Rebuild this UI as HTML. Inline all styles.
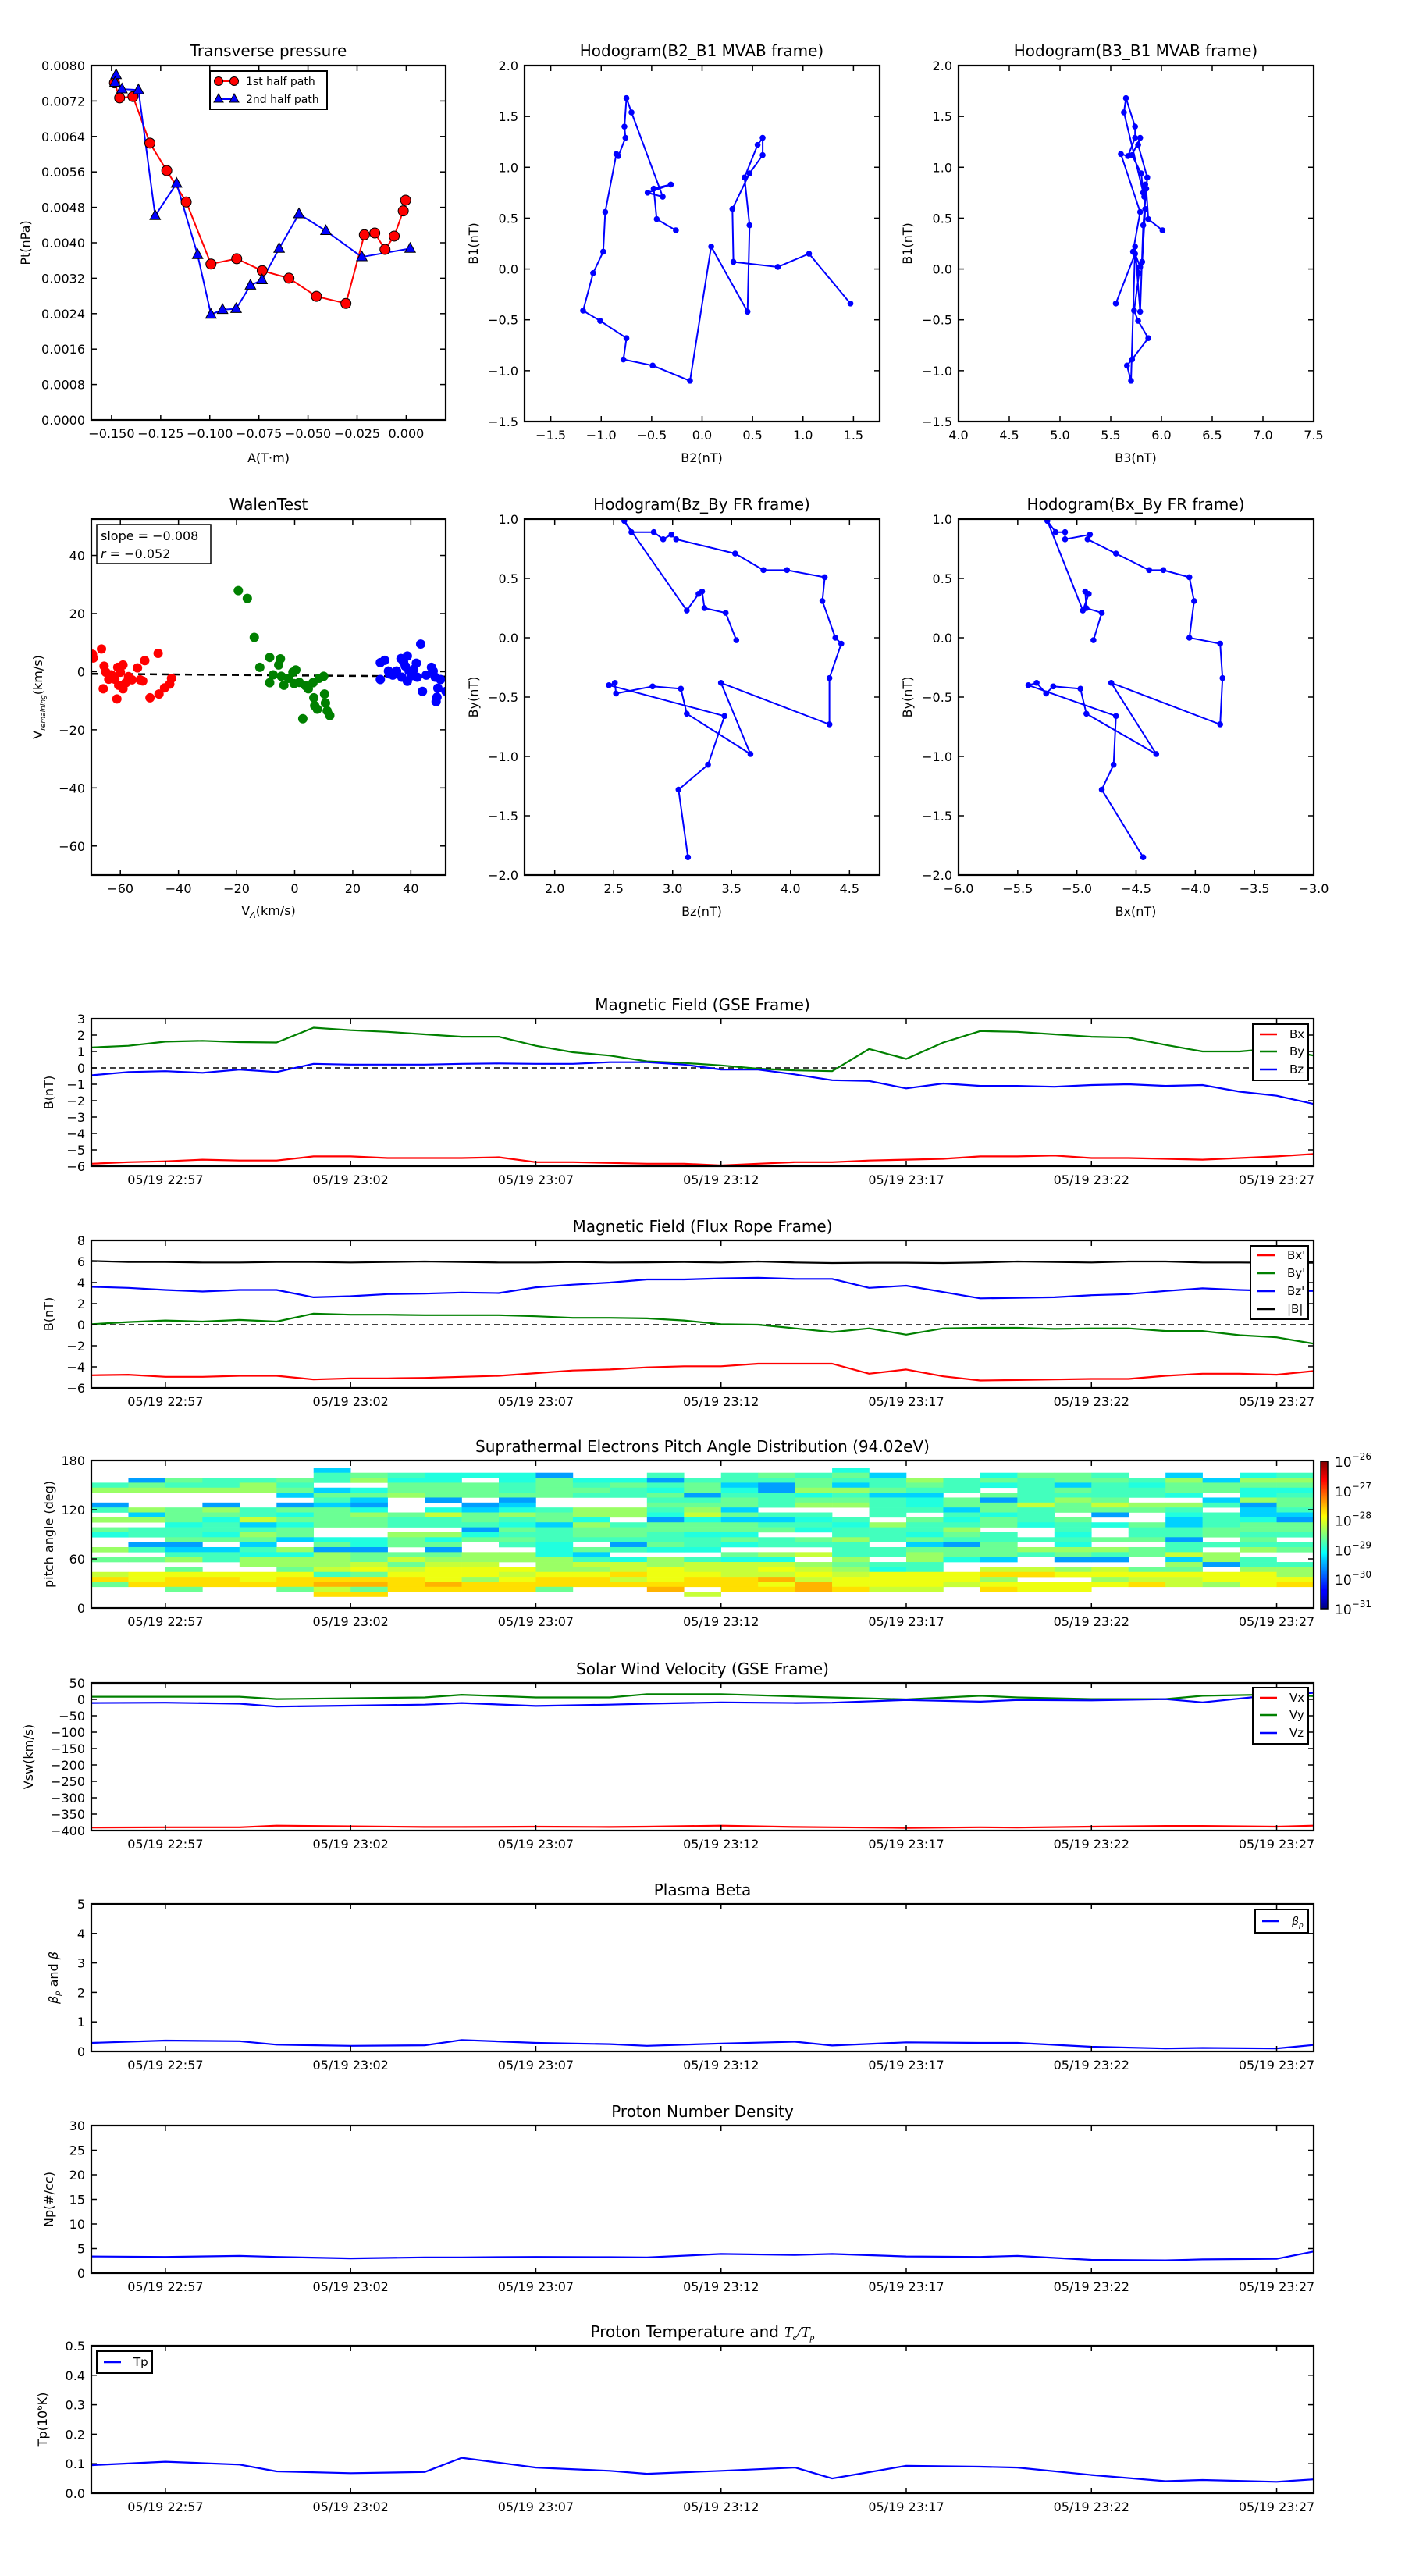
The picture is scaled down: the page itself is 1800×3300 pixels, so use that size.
<!DOCTYPE html>
<html><head><meta charset="utf-8"><title>Flux rope analysis</title>
<style>
html,body{margin:0;padding:0;background:#fff;}
svg{display:block;font-family:"DejaVu Sans","Liberation Sans",sans-serif;}
</style></head>
<body>
<svg id="fig" xmlns="http://www.w3.org/2000/svg" width="1800" height="3300" viewBox="0 0 1800 3300">
<rect x="0" y="0" width="1800" height="3300" fill="#fff"/>
<defs>
<linearGradient id="jetgrad" x1="0" y1="1" x2="0" y2="0">
<stop offset="0" stop-color="#00007f"/><stop offset="0.11" stop-color="#0000ff"/><stop offset="0.125" stop-color="#0000ff"/>
<stop offset="0.34" stop-color="#00d0ff"/><stop offset="0.375" stop-color="#00ffff"/><stop offset="0.5" stop-color="#7fff7f"/>
<stop offset="0.625" stop-color="#ffff00"/><stop offset="0.66" stop-color="#ffe000"/><stop offset="0.875" stop-color="#ff0000"/><stop offset="1" stop-color="#7f0000"/>
</linearGradient>
</defs>
</svg>
<script>
// ---------------- DATA ----------------
const tpA1 = [-0.1485,-0.1459,-0.1391,-0.1305,-0.1219,-0.1120,-0.0994,-0.0863,-0.0733,-0.0597,-0.0457,-0.0307,-0.0213,-0.0160,-0.0108,-0.0061,-0.0015,-0.0003];
const tpP1 = [0.00761,0.00727,0.00730,0.00625,0.00563,0.00492,0.00352,0.00364,0.00337,0.00320,0.00279,0.00263,0.00418,0.00422,0.00385,0.00415,0.00472,0.00496];
const tpA2 = [-0.1477,-0.1482,-0.1447,-0.1363,-0.1278,-0.1169,-0.1062,-0.0994,-0.0935,-0.0866,-0.0793,-0.0734,-0.0647,-0.0546,-0.0409,-0.0226,0.0020];
const tpP2 = [0.00779,0.00762,0.00747,0.00745,0.00461,0.00534,0.00373,0.00238,0.00249,0.00251,0.00304,0.00316,0.00387,0.00465,0.00427,0.00368,0.00387];
const mvB2 = [-0.26,-0.45,-0.48,-0.31,-0.54,-0.39,-0.70,-0.75,-0.77,-0.76,-0.83,-0.85,-0.96,-0.98,-1.08,-1.18,-1.01,-0.75,-0.78,-0.49,-0.12,0.09,0.45,0.47,0.42,0.55,0.60,0.60,0.47,0.30,0.31,0.75,1.06,1.47];
const mvB1 = [0.38,0.49,0.79,0.83,0.75,0.71,1.54,1.68,1.40,1.29,1.11,1.13,0.56,0.17,-0.04,-0.41,-0.51,-0.68,-0.89,-0.95,-1.10,0.22,-0.42,0.43,0.90,1.22,1.29,1.12,0.94,0.59,0.07,0.02,0.15,-0.34];
const mvB3 = [6.01,5.87,5.85,5.84,5.82,5.83,5.63,5.65,5.74,5.74,5.67,5.60,5.79,5.72,5.78,5.73,5.77,5.87,5.71,5.66,5.70,5.74,5.79,5.82,5.86,5.77,5.79,5.71,5.80,5.84,5.81,5.79,5.74,5.55];
const frBy = [-0.02,0.21,0.25,0.39,0.37,0.23,0.985,0.89,0.89,0.83,0.87,0.83,0.71,0.57,0.57,0.51,0.31,0.00,-0.05,-0.34,-0.73,-0.38,-0.98,-0.64,-0.43,-0.41,-0.47,-0.38,-0.40,-0.66,-1.07,-1.28,-1.85];
const frBz = [3.54,3.45,3.27,3.25,3.22,3.12,2.59,2.65,2.84,2.92,2.99,3.03,3.53,3.77,3.97,4.29,4.27,4.38,4.43,4.33,4.33,3.41,3.66,3.12,3.07,2.83,2.52,2.51,2.46,3.44,3.30,3.05,3.13];
const frBx = [-4.86,-4.79,-4.92,-4.93,-4.90,-4.95,-5.25,-5.18,-5.10,-5.10,-4.89,-4.91,-4.67,-4.39,-4.27,-4.05,-4.01,-4.05,-3.79,-3.77,-3.79,-4.71,-4.33,-4.92,-4.97,-5.20,-5.26,-5.34,-5.41,-4.67,-4.69,-4.79,-4.44];
const wRedX = [-69.6,-69.3,-66.5,-65.6,-65.0,-65.9,-63.1,-61.9,-61.2,-60.9,-60.0,-59.1,-59.1,-58.1,-57.2,-56.0,-54.1,-53.2,-52.3,-51.6,-49.8,-47.0,-46.7,-44.8,-43.0,-42.4,-64.0,-60.6];
const wRedY = [6.0,4.7,7.8,1.9,-0.2,-5.9,-1.1,-2.6,-9.4,1.5,-0.2,2.3,-5.9,-3.8,-1.7,-2.8,1.3,-2.8,-3.2,3.8,-9.0,6.3,-7.7,-5.6,-4.3,-2.3,-2.6,-4.7];
const wGrnX = [-19.4,-16.3,-13.9,-12.0,-8.6,-8.6,-7.4,-5.5,-4.9,-4.6,-3.7,-2.1,-0.6,-0.2,0.4,1.6,2.8,3.8,4.7,6.3,6.6,6.9,7.8,10.0,10.3,10.6,11.2,12.1,8.4];
const wGrnY = [27.9,25.2,11.8,1.5,4.9,-3.8,-1.1,2.3,4.4,-1.6,-4.7,-2.3,-0.2,-4.1,0.6,-3.7,-16.2,-4.9,-5.9,-3.8,-9.0,-11.7,-12.9,-1.6,-7.7,-10.8,-13.5,-15.1,-2.3];
const wBluX = [29.5,31.0,29.5,32.6,33.8,35.1,36.6,36.9,37.5,38.1,38.8,38.8,39.4,40.3,41.0,41.9,42.2,43.4,44.0,45.3,47.1,47.7,48.4,48.7,49.0,49.3,50.2,52.1,32.3];
const wBluY = [3.1,3.9,-2.7,-0.8,-1.2,0.2,4.5,-1.9,3.3,1.9,5.4,-3.3,0.2,-1.4,0.8,2.9,-1.9,9.5,-6.8,-1.2,1.5,0.2,-1.9,-10.3,-8.8,-5.7,-2.7,-6.8,0.2];
const wFit = [-0.008, -1.3];
const tB = [0,1,2,3,4,5,6,7,8,9,10,11,12,13,14,15,16,17,18,19,20,21,22,23,24,25,26,27,28,29,30,31,32,33];
const gseBx = [-5.85,-5.75,-5.7,-5.6,-5.65,-5.65,-5.4,-5.4,-5.5,-5.5,-5.5,-5.45,-5.75,-5.75,-5.8,-5.85,-5.85,-5.95,-5.85,-5.75,-5.75,-5.65,-5.6,-5.55,-5.4,-5.4,-5.35,-5.5,-5.5,-5.55,-5.6,-5.5,-5.4,-5.25];
const gseBy = [1.25,1.35,1.6,1.65,1.57,1.55,2.45,2.3,2.2,2.05,1.9,1.9,1.35,0.95,0.75,0.4,0.3,0.15,-0.05,-0.15,-0.2,1.15,0.55,1.55,2.25,2.2,2.05,1.9,1.85,1.4,1.0,1.0,1.2,0.75];
const gseBz = [-0.45,-0.25,-0.2,-0.3,-0.1,-0.25,0.25,0.2,0.2,0.2,0.25,0.27,0.25,0.25,0.35,0.35,0.2,-0.1,-0.1,-0.4,-0.75,-0.8,-1.25,-0.95,-1.1,-1.1,-1.15,-1.05,-1.0,-1.1,-1.05,-1.45,-1.7,-2.2];
const frTx = [-4.8,-4.75,-4.95,-4.95,-4.85,-4.85,-5.2,-5.1,-5.1,-5.05,-4.95,-4.85,-4.6,-4.35,-4.25,-4.05,-3.95,-3.95,-3.7,-3.7,-3.7,-4.65,-4.25,-4.9,-5.3,-5.25,-5.2,-5.15,-5.15,-4.85,-4.65,-4.65,-4.75,-4.4];
const frTy = [0.05,0.25,0.4,0.3,0.45,0.3,1.05,0.95,0.95,0.9,0.9,0.9,0.8,0.65,0.65,0.6,0.4,0.05,0.0,-0.35,-0.7,-0.35,-0.95,-0.35,-0.3,-0.3,-0.4,-0.35,-0.35,-0.6,-0.6,-1.0,-1.2,-1.8];
const frTz = [3.6,3.5,3.3,3.15,3.3,3.3,2.6,2.7,2.9,2.95,3.05,3.0,3.55,3.8,4.0,4.3,4.3,4.4,4.45,4.35,4.35,3.5,3.7,3.1,2.5,2.55,2.6,2.8,2.9,3.2,3.45,3.3,3.2,3.2];
const frTb = [6.05,5.95,5.95,5.9,5.9,5.95,5.95,5.9,5.95,6.0,5.95,5.9,5.9,5.95,5.9,5.92,5.95,5.9,6.0,5.9,5.85,5.88,5.88,5.85,5.9,6.0,5.95,5.9,6.0,6.0,5.9,5.9,5.88,5.88];
const padCodes = {b:-29.6,c:-29.35,q:-28.97,m:-28.8,g:-28.6,l:-28.37,y:-28.15,Y:-27.96,o:-27.72,O:-27.5};
const padTopAngle = 171.1, padBin = 6.05;
const padRows = [
"......c.........."+"...q............",
"......mgmqqqb..m."+"mgmgc..qggm.c.qm",
".bgmmgmlqq.qgqqbm"+"mmgmmlmgmggmlcll",
"mgmmlm..gggmgmgmg"+"cbgcmgmqmcmqgggg",
"lllllgcqgggmggmqg"+"qbllgmm.mgmmggqq",
".....cgglggggmmgb"+"mmqmcc.gmmmmq.qm",
"......mc.b.b...mm"+"gmggmqgbmlg..clg",
"b..b.bcb..bc...gg"+"gmllmqggygyllmbg",
"mlglmggq.qcqmllml"+"c...mmcgmgggm.cm",
".cggmqglgyglgllqy"+"gmm.m.mqm.b.qmcc",
"llgqygggmmgmgq.bq"+"ccqm.gqgmg..cmqb",
"..qmcqggmmmqclmgg"+"gmmqlmmgqmqgcmgg",
"gmmmmg....bgmgggg"+"ggqmmml..m.mmggg",
"qmmqlg..llqmmggmq"+"q..mmqgm.q.mmgmm",
"..gggcqqgqggmmmmm"+"gmglmgmmmmggb.g.",
".bb.c.gqgg.mq.bgm"+"qmmm.cbg.q..mmmm",
"lmccmlbb.b..qgmqq"+"...mmggglllgm.lg",
"..mmqqlgggllqc..."+"glymmlggmgmgyl..",
"gglmlllgyllllmqlm"+"qq.l.lqc.bb.clm.",
"....lllygyy.lyyly"+"yylgmm......lbmm",
"..g..gyYyYYYllyYy"+"yYylqm.yylygg.ll",
"yYYYYYmgYYYyYYoYY"+"yyYyYYYooYYYYYYl",
"oYooYooooYlYooyYo"+"oOyYYYYl..lyyYYY",
"goooooOOoOooooooo"+"oYOYYYyYYYYoylYo",
"..g..gygoooog..O."+"ooOoyy.oYY......",
"......oo........y"+"................"
];
const tV = [0,2,4,5,9,10,12,14,15,17,19,20,22,24,25,27,29,30,32,33];
const vswX = [-391,-390,-390,-385,-389,-389,-388,-389,-388,-385,-389,-390,-392,-390,-391,-388,-386,-386,-388,-385];
const vswY = [8,8,8,1,6,14,6,6,16,16,9,6,0,11,6,1,1,11,15,10];
const vswZ = [-11,-10,-13,-22,-16,-11,-20,-16,-13,-9,-11,-10,-2,-7,-2,-3,1,-9,14,20];
const tP = [0,2,4,5,7,9,10,12,14,15,17,19,20,22,24,25,27,29,30,32,33];
const betaP = [0.29,0.37,0.35,0.23,0.19,0.21,0.39,0.29,0.25,0.19,0.27,0.33,0.2,0.31,0.29,0.29,0.16,0.1,0.12,0.1,0.22];
const densNp = [3.4,3.3,3.5,3.3,3.0,3.2,3.2,3.3,3.25,3.2,3.9,3.7,3.9,3.4,3.3,3.5,2.7,2.6,2.8,2.9,4.4];
const tempTp = [0.095,0.107,0.097,0.074,0.068,0.072,0.12,0.087,0.076,0.066,0.076,0.087,0.05,0.093,0.09,0.087,0.062,0.041,0.045,0.039,0.047];
const timeTicks = [2,7,12,17,22,27,32];
const timeLabels = ["05/19 22:57","05/19 23:02","05/19 23:07","05/19 23:12","05/19 23:17","05/19 23:22","05/19 23:27"];

// ---------------- HELPERS ----------------
const NS='http://www.w3.org/2000/svg';
const svg=document.getElementById('fig');
let clipN=0;
function mk(tag, attrs, name, parent){
  const el=document.createElementNS(NS,tag);
  for(const k in attrs) el.setAttribute(k,attrs[k]);
  
  
  (parent||svg).appendChild(el);
  return el;
}
function txt(x,y,html,o,name,parent){
  o=o||{};
  const el=mk('text',{x:x,y:y,'font-size':o.fs||16,'text-anchor':o.anchor||'middle',fill:'#000'},name,parent);
  if(o.rot) el.setAttribute('transform','rotate('+o.rot+' '+x+' '+y+')');
  if(o.style) el.setAttribute('font-style',o.style);
  el.innerHTML=html;
  return el;
}
function fmt(v,d){ let s=Math.abs(v)<1e-12?(0).toFixed(d):v.toFixed(d); return s.replace('-','\u2212'); }
function axes(x0,y0,w,h,xlim,ylim,name){
  const g=mk('g',{},name);
  const sx=v=>x0+(v-xlim[0])/(xlim[1]-xlim[0])*w;
  const sy=v=>y0+h-(v-ylim[0])/(ylim[1]-ylim[0])*h;
  const id='clip'+(clipN++);
  const cp=mk('clipPath',{id:id},'clip-region',g);
  mk('rect',{x:x0,y:y0,width:w,height:h},'clip-rect',cp);
  const plot=mk('g',{'clip-path':'url(#'+id+')'},'plot-area',g);
  return {g,plot,sx,sy,x0,y0,w,h,xlim,ylim};
}
function frame(ax,xt,xl,yt,yl,fs){
  fs=fs||16;
  const g=ax.g;
  xt.forEach((v,i)=>{const x=ax.sx(v);
    mk('line',{x1:x,x2:x,y1:ax.y0+ax.h,y2:ax.y0+ax.h-7,stroke:'#000','stroke-width':1.5},'x-tick',g);
    mk('line',{x1:x,x2:x,y1:ax.y0,y2:ax.y0+7,stroke:'#000','stroke-width':1.5},'x-tick-top',g);
    txt(x,ax.y0+ax.h+23,xl[i],{fs:fs},'x-tick-label',g);});
  yt.forEach((v,i)=>{const y=ax.sy(v);
    mk('line',{x1:ax.x0,x2:ax.x0+7,y1:y,y2:y,stroke:'#000','stroke-width':1.5},'y-tick',g);
    mk('line',{x1:ax.x0+ax.w,x2:ax.x0+ax.w-7,y1:y,y2:y,stroke:'#000','stroke-width':1.5},'y-tick-right',g);
    txt(ax.x0-8,y+6,yl[i],{fs:fs,anchor:'end'},'y-tick-label',g);});
  mk('rect',{x:ax.x0,y:ax.y0,width:ax.w,height:ax.h,fill:'none',stroke:'#000','stroke-width':2.2},'axes-frame',g);
}
function range(a,b,s){const r=[];for(let v=a;v<=b+1e-9;v+=s)r.push(+v.toFixed(6));return r;}
function line(ax,xs,ys,color,name,w,dash){
  const d=xs.map((x,i)=>(i?'L':'M')+ax.sx(x).toFixed(1)+','+ax.sy(ys[i]).toFixed(1)).join('');
  const p=mk('path',{d:d,fill:'none',stroke:color,'stroke-width':w||2,'stroke-linejoin':'round'},name,ax.plot);
  if(dash) p.setAttribute('stroke-dasharray',dash);
  return p;
}
function dots(ax,xs,ys,color,r,name,stroke){
  xs.forEach((x,i)=>{mk('circle',{cx:ax.sx(x),cy:ax.sy(ys[i]),r:r,fill:color,stroke:stroke||'none','stroke-width':1},name,ax.plot);});
}
function tris(ax,xs,ys,color,s,name){
  xs.forEach((x,i)=>{const cx=ax.sx(x),cy=ax.sy(ys[i]);
    mk('path',{d:'M'+cx+','+(cy-s)+'L'+(cx+s*0.9)+','+(cy+s*0.65)+'L'+(cx-s*0.9)+','+(cy+s*0.65)+'Z',fill:color,stroke:'#000','stroke-width':1},name,ax.plot);});
}
function legendBox(x,y,w,h,entries,name){
  const g=mk('g',{},name);
  mk('rect',{x:x,y:y,width:w,height:h,fill:'#fff',stroke:'#000','stroke-width':2},'legend-frame',g);
  entries.forEach((e,i)=>{
    const yy=y+e.dy;
    mk('line',{x1:x+9,x2:x+31,y1:yy,y2:yy,stroke:e.c,'stroke-width':2.5},'legend-line',g);
    txt(x+47,yy+5,e.t,{fs:e.fs||15,anchor:'start'},'legend-label',g);
  });
  return g;
}
function jet(t){t=Math.max(0,Math.min(1,t));
  const c=v=>Math.round(255*Math.max(0,Math.min(1,v)));
  return 'rgb('+c(1.5-Math.abs(4*t-3))+','+c(1.5-Math.abs(4*t-2))+','+c(1.5-Math.abs(4*t-1))+')';}

// ---------------- TRANSVERSE PRESSURE ----------------
(function(){
  const ax=axes(117,84,454,454,[-0.1603,0.0201],[0,0.008],'transverse-pressure-axes');
  line(ax,tpA1,tpP1,'#ff0000','first-half-line',2);
  line(ax,tpA2,tpP2,'#0000ff','second-half-line',2);
  dots(ax,tpA1,tpP1,'#ff0000',6.5,'first-half-marker','#000');
  tris(ax,tpA2,tpP2,'#0000ff',7.5,'second-half-marker');
  const xt=range(-0.15,0,0.025);
  frame(ax,xt,xt.map(v=>fmt(v,3)),range(0,0.008,0.0008),range(0,0.008,0.0008).map(v=>fmt(v,4)));
  txt(344,72,'Transverse pressure',{fs:20},'transverse-pressure-title');
  txt(344,592,'A(T·m)',{fs:16},'x-axis-title');
  txt(38,311,'Pt(nPa)',{fs:16,rot:-90},'y-axis-title');
  const g=mk('g',{},'pressure-legend');
  mk('rect',{x:269,y:91,width:150,height:49,fill:'#fff',stroke:'#000','stroke-width':2},'legend-frame',g);
  mk('line',{x1:280,x2:300,y1:104,y2:104,stroke:'#ff0000','stroke-width':2},'legend-line',g);
  mk('circle',{cx:280,cy:104,r:5.5,fill:'#ff0000',stroke:'#000'},'legend-marker',g);
  mk('circle',{cx:300,cy:104,r:5.5,fill:'#ff0000',stroke:'#000'},'legend-marker',g);
  txt(315,109,'1st half path',{fs:14,anchor:'start'},'legend-label',g);
  mk('line',{x1:280,x2:300,y1:127,y2:127,stroke:'#0000ff','stroke-width':2},'legend-line',g);
  mk('path',{d:'M280,120L286,131L274,131Z',fill:'#0000ff',stroke:'#000'},'legend-marker',g);
  mk('path',{d:'M300,120L306,131L294,131Z',fill:'#0000ff',stroke:'#000'},'legend-marker',g);
  txt(315,132,'2nd half path',{fs:14,anchor:'start'},'legend-label',g);
})();

// ---------------- HODOGRAMS ----------------
function hodo(x0,y0,xlim,ylim,xs,ys,xt,yt,title,xlab,ylab,name){
  const ax=axes(x0,y0,455,456,xlim,ylim,name);
  line(ax,xs,ys,'#0000ff','hodogram-path',2);
  dots(ax,xs,ys,'#0000ff',3.8,'hodogram-point');
  frame(ax,xt,xt.map(v=>fmt(v,1)),yt,yt.map(v=>fmt(v,1)));
  txt(x0+227,y0-12,title,{fs:20},'hodogram-title');
  txt(x0+227,y0+456+52,xlab,{fs:16},'x-axis-title');
  txt(x0-60,y0+228,ylab,{fs:16,rot:-90},'y-axis-title');
}
hodo(672,84,[-1.76,1.76],[-1.5,2.0],mvB2,mvB1,range(-1.5,1.5,0.5),range(-1.5,2,0.5),'Hodogram(B2_B1 MVAB frame)','B2(nT)','B1(nT)','hodogram-b2-b1');
hodo(1228,84,[4,7.5],[-1.5,2.0],mvB3,mvB1,range(4,7.5,0.5),range(-1.5,2,0.5),'Hodogram(B3_B1 MVAB frame)','B3(nT)','B1(nT)','hodogram-b3-b1');
hodo(672,665,[1.744,4.756],[-2,1],frBz,frBy,range(2,4.5,0.5),range(-2,1,0.5),'Hodogram(Bz_By FR frame)','Bz(nT)','By(nT)','hodogram-bz-by');
hodo(1228,665,[-6,-3],[-2,1],frBx,frBy,range(-6,-3,0.5),range(-2,1,0.5),'Hodogram(Bx_By FR frame)','Bx(nT)','By(nT)','hodogram-bx-by');

// ---------------- WALEN TEST ----------------
(function(){
  const ax=axes(117,665,454,456,[-70,52],[-70,52.5],'walen-test-axes');
  line(ax,[-70,52],[wFit[1]+wFit[0]*-70,wFit[1]+wFit[0]*52],'#000','fit-line',2.5,'9,6');
  dots(ax,wRedX,wRedY,'#ff0000',6,'walen-point-red');
  dots(ax,wGrnX,wGrnY,'#008000',6,'walen-point-green');
  dots(ax,wBluX,wBluY,'#0000ff',6,'walen-point-blue');
  const xt=range(-60,40,20), yt=range(-60,40,20);
  frame(ax,xt,xt.map(v=>fmt(v,0)),yt,yt.map(v=>fmt(v,0)));
  txt(344,653,'WalenTest',{fs:20},'walen-title');
  txt(344,1172,'V<tspan font-size="11" dy="4" font-style="italic">A</tspan><tspan dy="-4">(km/s)</tspan>',{fs:16},'x-axis-title');
  txt(54,893,'V<tspan font-size="9" dy="4" font-style="italic">remaining</tspan><tspan dy="-4">(km/s)</tspan>',{fs:16,rot:-90},'y-axis-title');
  const g=mk('g',{},'fit-textbox');
  mk('rect',{x:124,y:672,width:146,height:50,fill:'#fff',stroke:'#000','stroke-width':1.5},'textbox-frame',g);
  txt(129,692,'slope = '+fmt(wFit[0],3),{fs:16,anchor:'start'},'slope-text',g);
  txt(129,715,'<tspan font-style="italic">r</tspan> = \u22120.052',{fs:16,anchor:'start'},'r-text',g);
})();

// ---------------- TIME SERIES PANELS ----------------
const PX=117, PW=1566, PH=189;
const panelTop=[1305,1589,1871,2156,2439,2723,3005];
function tpanel(i,ylim,yt,ylabels,title,ylabel,name,ylx){
  const ax=axes(PX,panelTop[i],PW,PH,[0,33],ylim,name);
  ax.finish=()=>{frame(ax,timeTicks,timeLabels,yt,ylabels);
    txt(PX+PW/2,panelTop[i]-11,title,{fs:20},'panel-title');
    txt(ylx||68,panelTop[i]+PH/2,ylabel,{fs:16,rot:-90},'y-axis-title');};
  return ax;
}
(function(){
  const yt=range(-6,3,1);
  const ax=tpanel(0,[-6,3],yt,yt.map(v=>fmt(v,0)),'Magnetic Field (GSE Frame)','B(nT)','magnetic-field-gse-panel');
  line(ax,[0,33],[0,0],'#000','zero-line',1.5,'7,5');
  line(ax,tB,gseBx,'#ff0000','bx-line',2.2);
  line(ax,tB,gseBy,'#008000','by-line',2.2);
  line(ax,tB,gseBz,'#0000ff','bz-line',2.2);
  ax.finish();
  legendBox(1605,1312,71,72,[{c:'#ff0000',t:'Bx',dy:13},{c:'#008000',t:'By',dy:35},{c:'#0000ff',t:'Bz',dy:58}],'gse-legend');
})();
(function(){
  const yt=range(-6,8,2);
  const ax=tpanel(1,[-6,8],yt,yt.map(v=>fmt(v,0)),'Magnetic Field (Flux Rope Frame)','B(nT)','magnetic-field-fr-panel');
  line(ax,[0,33],[0,0],'#000','zero-line',1.5,'7,5');
  line(ax,tB,frTx,'#ff0000','bx-prime-line',2.2);
  line(ax,tB,frTy,'#008000','by-prime-line',2.2);
  line(ax,tB,frTz,'#0000ff','bz-prime-line',2.2);
  line(ax,tB,frTb,'#000000','b-total-line',2.2);
  ax.finish();
  legendBox(1602,1596,74,94,[{c:'#ff0000',t:"Bx'",dy:12},{c:'#008000',t:"By'",dy:35},{c:'#0000ff',t:"Bz'",dy:58},{c:'#000',t:'|B|',dy:81}],'fr-legend');
})();
(function(){
  const yt=[0,60,120,180];
  const ax=tpanel(2,[0,180],yt,yt.map(v=>String(v)),'Suprathermal Electrons Pitch Angle Distribution (94.02eV)','pitch angle (deg)','pitch-angle-panel');
  padRows.forEach((row,k)=>{
    const aTop=padTopAngle-padBin*k, aBot=aTop-padBin;
    for(let c=0;c<33;c++){
      const ch=row[c];
      if(!ch||!(ch in padCodes)) continue;
      const t=(padCodes[ch]+31)/5;
      const x1=ax.sx(c), x2=ax.sx(c+1), y1=ax.sy(aTop), y2=ax.sy(aBot);
      mk('rect',{x:x1,y:y1,width:x2-x1+0.3,height:y2-y1+0.3,fill:jet(t)},'pad-cell',ax.plot);
    }
  });
  ax.finish();
  const g=mk('g',{},'colorbar');
  mk('rect',{x:1692,y:1872,width:9,height:189,fill:'url(#jetgrad)',stroke:'#000','stroke-width':1.5},'colorbar-gradient',g);
  for(let k=0;k<=5;k++){
    const y=2061-k*189/5;
    txt(1710,y+7,'10<tspan font-size="12" dy="-9">\u2212'+(31-k)+'</tspan>',{fs:17,anchor:'start'},'colorbar-label',g);
  }
})();
(function(){
  const yt=range(-400,50,50);
  const ax=tpanel(3,[-400,50],yt,yt.map(v=>fmt(v,0)),'Solar Wind Velocity (GSE Frame)','Vsw(km/s)','solar-wind-velocity-panel',42);
  line(ax,tV,vswX,'#ff0000','vx-line',2.2);
  line(ax,tV,vswY,'#008000','vy-line',2.2);
  line(ax,tV,vswZ,'#0000ff','vz-line',2.2);
  ax.finish();
  legendBox(1605,2162,71,72,[{c:'#ff0000',t:'Vx',dy:13},{c:'#008000',t:'Vy',dy:35},{c:'#0000ff',t:'Vz',dy:58}],'vsw-legend');
})();
(function(){
  const yt=range(0,5,1);
  const ax=tpanel(4,[0,5],yt,yt.map(v=>fmt(v,0)),'Plasma Beta','<tspan font-style="italic">β<tspan font-size="10" dy="3">p</tspan></tspan><tspan dy="-3"> and </tspan><tspan font-style="italic">β</tspan>','plasma-beta-panel',74);
  line(ax,tP,betaP,'#0000ff','beta-line',2.2);
  ax.finish();
  legendBox(1608,2446,68,30,[{c:'#0000ff',t:'<tspan font-style="italic">β<tspan font-size="9" dy="3">p</tspan></tspan>',dy:15,fs:14}],'beta-legend');
})();
(function(){
  const yt=range(0,30,5);
  const ax=tpanel(5,[0,30],yt,yt.map(v=>fmt(v,0)),'Proton Number Density','Np(#/cc)','proton-density-panel');
  line(ax,tP,densNp,'#0000ff','np-line',2.2);
  ax.finish();
})();
(function(){
  const yt=range(0,0.5,0.1);
  const ax=tpanel(6,[0,0.5],yt,yt.map(v=>fmt(v,1)),'Proton Temperature and <tspan font-family="Liberation Serif" font-style="italic">T<tspan font-size="12" dy="4">e</tspan><tspan dy="-4">/T</tspan><tspan font-size="12" dy="4">p</tspan></tspan>','Tp(10<tspan font-size="10" dy="-6">6</tspan><tspan dy="6">K)</tspan>','proton-temperature-panel',60);
  line(ax,tP,tempTp,'#0000ff','tp-line',2.2);
  ax.finish();
  legendBox(124,3012,71,28,[{c:'#0000ff',t:'Tp',dy:14}],'tp-legend');
})();
</script>
</body></html>
